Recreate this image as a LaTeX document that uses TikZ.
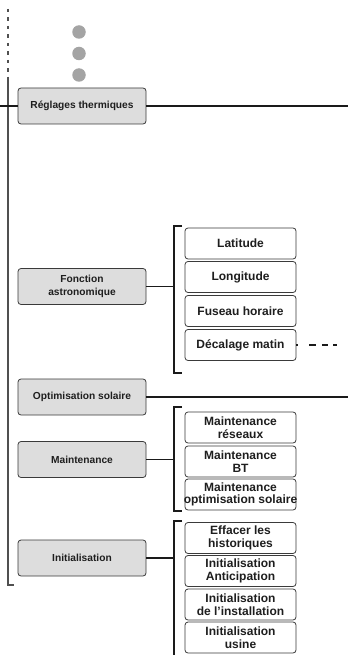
\documentclass[tikz,border=0pt]{standalone}
\usepackage{fontspec}
\setmainfont{Liberation Sans}
\definecolor{boxdraw}{HTML}{3A3A3A}
\definecolor{parentfill}{HTML}{DDDDDD}
\definecolor{txt}{HTML}{1E1E1E}
\definecolor{linecol}{HTML}{1A1A1A}
\definecolor{maincol}{HTML}{505050}
\definecolor{dotcol}{HTML}{A4A4A4}
\begin{document}
\begin{tikzpicture}[x=1pt,y=-1pt,
  parent/.style={draw=boxdraw, fill=parentfill, rounded corners=3pt, minimum width=128pt, minimum height=36pt, inner sep=0pt, align=center, text=txt, line width=0.8pt, font=\bfseries\fontsize{10.2}{12.7}\selectfont},
  child/.style={draw=boxdraw, fill=white, rounded corners=3pt, minimum width=111pt, minimum height=31pt, inner sep=0pt, align=center, text=txt, line width=0.8pt, font=\bfseries\fontsize{12}{12.7}\selectfont},
  link/.style={draw=linecol, line width=1.5pt},
  mainline/.style={draw=maincol, line width=1.5pt},
  bracket/.style={draw=linecol, line width=1.3pt},
  dotstyle/.style={circle, fill=dotcol, minimum size=13.5pt, inner sep=0pt}
]
\useasboundingbox (0,0) rectangle (348,655);

% main vertical line
\coordinate (mtop) at (8,9);
\coordinate (mmid) at (8,77);
\coordinate (mbot) at (8,585);
\coordinate (mtick) at (14,585);
\draw[mainline, dash pattern=on 3.5pt off 5pt] (mtop) -- (mmid);
\draw[mainline] (mmid) -- (mbot) -- (mtick);

% dots
\node[dotstyle] (d1) at (79,32) {};
\node[dotstyle] (d2) at (79,53.5) {};
\node[dotstyle] (d3) at (79,75) {};

% parent boxes
\node[parent] (rt) at (82,106) {Réglages thermiques};
\node[parent] (fa) at (82,286.5) {Fonction\\astronomique};
\node[parent] (os) at (82,397) {Optimisation solaire};
\node[parent] (mt) at (82,459.5) {Maintenance};
\node[parent] (in) at (82,558) {Initialisation};

% long lines
\coordinate (rtl) at (0,106);
\coordinate (rtr) at (348,106);
\coordinate (osr) at (348,397);
\draw[link] (rtl) -- (rt.west);
\draw[link] (rt.east) -- (rtr);
\draw[link] (os.east) -- (osr);

% children: Fonction astronomique
\node[child] (lat) at (240.5,243.5) {Latitude};
\node[child] (lon) at (240.5,277) {Longitude};
\node[child] (fus) at (240.5,311) {Fuseau horaire};
\node[child] (dec) at (240.5,345) {Décalage matin};

% children: Maintenance
\node[child] (mr) at (240.5,427.5) {Maintenance\\réseaux};
\node[child] (mb) at (240.5,461.5) {Maintenance\\BT};
\node[child] (mo) at (240.5,494.5) {Maintenance\\\makebox[0pt]{optimisation solaire}};

% children: Initialisation
\node[child] (ef) at (240.5,538) {Effacer les\\historiques};
\node[child] (ia) at (240.5,571) {Initialisation\\Anticipation};
\node[child] (ii) at (240.5,604.5) {Initialisation\\de l’installation};
\node[child] (iu) at (240.5,637.5) {Initialisation\\usine};

% brackets and connectors
\coordinate (fab) at (174,286.5);
\draw[link] (fa.east) -- (fab);
\coordinate (fat1) at (182,226);
\coordinate (fat0) at (174,226);
\coordinate (fab0) at (174,373);
\coordinate (fab1) at (182,373);
\draw[bracket] (fat1) -- (fat0) -- (fab0) -- (fab1);

\coordinate (mtb) at (174,459.5);
\draw[link] (mt.east) -- (mtb);
\coordinate (mtt1) at (182,407);
\coordinate (mtt0) at (174,407);
\coordinate (mtb0) at (174,511);
\coordinate (mtb1) at (182,511);
\draw[bracket] (mtt1) -- (mtt0) -- (mtb0) -- (mtb1);

\coordinate (inb) at (174,558);
\draw[link] (in.east) -- (inb);
\coordinate (int1) at (182,521);
\coordinate (int0) at (174,521);
\coordinate (inb0) at (174,656);
\draw[bracket] (int1) -- (int0) -- (inb0);

% dashed continuation from Décalage matin
\coordinate (decend) at (338,345);
\draw[link, line width=1.3pt, dash pattern=on 2pt off 11pt on 6.5pt off 6pt on 6.5pt off 5pt on 3.5pt] (dec.east) -- (decend);

\end{tikzpicture}
\end{document}
